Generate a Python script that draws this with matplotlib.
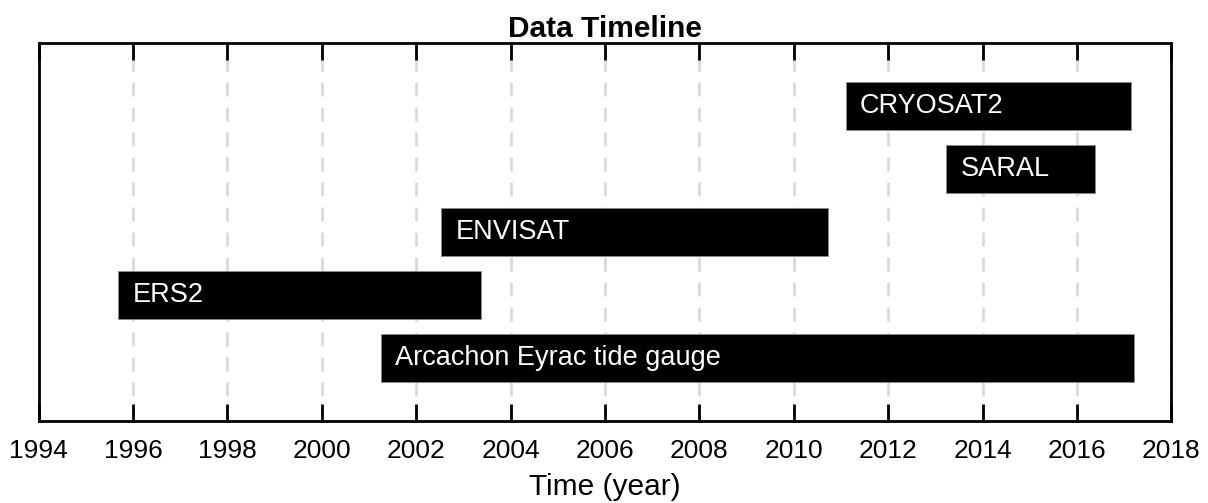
"""Data Timeline: coverage periods of the altimetry missions and the tide gauge."""

import matplotlib.pyplot as plt

# --- data (start / end in decimal years, bottom to top) ---
names = ["Arcachon Eyrac tide gauge", "ERS2", "ENVISAT", "SARAL", "CRYOSAT2"]
starts = [2001.26, 1995.69, 2002.53, 2013.23, 2011.10]
ends = [2017.21, 2003.38, 2010.73, 2016.38, 2017.14]
rows = [1, 2, 3, 4, 5]
tick_years = list(range(1994, 2019, 2))


def main() -> None:
    plt.rcParams["font.family"] = ["Liberation Sans", "DejaVu Sans"]

    fig = plt.figure(figsize=(12.08, 5.03), dpi=100)
    ax = fig.add_axes([0.032, 0.1636, 0.9376, 0.7515])

    for name, s, e, r in zip(names, starts, ends, rows):
        ax.barh(r, e - s, left=s, height=0.76, color="black",
                edgecolor="#8a8a8a", linewidth=0.6, zorder=3)
        ax.text(s + 0.3, r, name, color="white", fontsize=19.5,
                ha="left", va="center", zorder=4)

    ax.set_xlim(1994, 2018)
    ax.set_ylim(0, 6)
    ax.set_xticks(tick_years)
    ax.set_yticks([])
    ax.tick_params(axis="x", direction="in", length=12, width=2,
                   top=True, labelsize=19, pad=13.5)
    ax.grid(axis="x", color="#d9d9d9", linestyle=(0, (5, 4)), linewidth=2,
            zorder=0)
    for sp in ax.spines.values():
        sp.set_linewidth(2)

    ax.set_title("Data Timeline", fontsize=21.5, fontweight="bold", pad=4)
    ax.set_xlabel("Time (year)", fontsize=21.5, labelpad=7)

    fig.savefig("out.png", dpi=100)


if __name__ == "__main__":
    main()
